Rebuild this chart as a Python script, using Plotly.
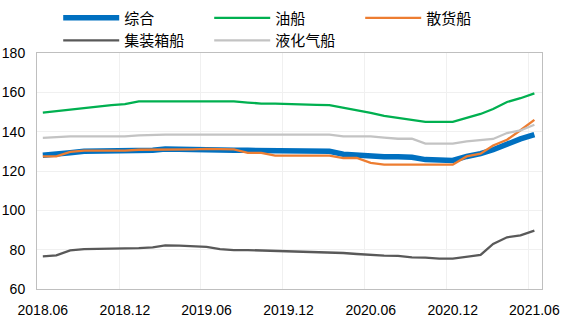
import pandas as pd
import plotly.graph_objects as go

months = pd.period_range("2018-06", "2021-06", freq="M").strftime("%Y-%m").tolist()

zonghe = [128.0, 128.3, 129.3, 130.0, 130.0, 130.0, 130.1, 130.3, 130.6, 131.2, 131.2, 131.2,
          130.9, 130.8, 130.6, 130.5, 130.5, 130.5, 130.4, 130.4, 130.3, 130.0, 128.5, 128.0,
          127.4, 127.3, 127.2, 127.0, 125.8, 125.5, 125.4, 127.4, 128.8, 130.8, 133.7, 136.3, 138.5]
youchuan = [149.7, 150.5, 151.3, 152.2, 153.0, 153.5, 154.0, 155.4, 155.4, 155.4, 155.4, 155.4,
            155.4, 155.4, 155.4, 154.8, 154.3, 154.3, 154.0, 153.6, 153.6, 153.5, 152.3, 151.0,
            149.6, 148.0, 147.0, 146.2, 145.0, 145.0, 145.0, 147.0, 149.0, 151.5, 155.1, 157.0, 159.5]
sanhuo = [127.4, 127.4, 129.7, 130.4, 130.4, 130.4, 130.4, 130.8, 130.8, 130.8, 130.8, 131.0,
          131.2, 131.2, 131.0, 129.2, 129.2, 127.8, 127.8, 127.8, 127.8, 127.8, 126.6, 126.6,
          124.1, 123.2, 123.2, 123.2, 123.2, 123.2, 123.2, 127.4, 128.8, 133.0, 135.9, 140.7, 146.0]
jizhuangxiang = [76.6, 77.1, 79.6, 80.3, 80.4, 80.5, 80.7, 80.8, 81.2, 82.2, 82.1, 81.9,
                 81.4, 80.3, 79.8, 79.8, 79.6, 79.3, 79.2, 78.9, 78.6, 78.4, 78.3, 77.8,
                 77.3, 77.0, 76.8, 76.1, 76.0, 75.4, 75.4, 76.2, 77.3, 82.9, 86.3, 87.3, 89.7]
yehuaqi = [136.8, 137.3, 137.6, 137.6, 137.6, 137.6, 137.6, 138.1, 138.5, 138.5, 138.5, 138.5,
           138.5, 138.5, 138.5, 138.5, 138.5, 138.5, 138.5, 138.5, 138.5, 138.5, 137.6, 137.6,
           137.6, 137.0, 136.4, 136.4, 133.9, 133.9, 133.9, 135.1, 135.9, 136.3, 139.3, 140.6, 143.5]

series = [
    ("综合", zonghe, "#0070C0", 5.5),
    ("油船", youchuan, "#00B050", 2.3),
    ("散货船", sanhuo, "#ED7D31", 2.3),
    ("集装箱船", jizhuangxiang, "#595959", 2.3),
    ("液化气船", yehuaqi, "#C3C3C3", 2.3),
]

x = pd.to_datetime(months) + pd.Timedelta(days=13)

fig = go.Figure()
for name, vals, color, w in series:
    fig.add_trace(go.Scatter(x=x, y=vals, name=name, mode="lines",
                             line=dict(color=color, width=w)))

grid_dates = pd.date_range("2018-06-01", "2021-06-01", freq="6MS")
label_dates = x[::6]
label_text = [m.replace("-", ".") for m in months[::6]]

fig.update_layout(
    width=568, height=327,
    margin=dict(l=37, r=26, t=53, b=38, autoexpand=False),
    paper_bgcolor="white", plot_bgcolor="white",
    font=dict(family="Liberation Sans, Arial, Noto Sans CJK SC", size=14, color="#000000"),
    showlegend=True,
    legend=dict(
        orientation="h", x=0.042, y=1.218, xanchor="left", yanchor="top",
        font=dict(family="Noto Sans CJK SC", size=15, color="#000000"),
        entrywidth=80, entrywidthmode="pixels",
        bgcolor="rgba(0,0,0,0)", itemwidth=56,
    ),
    xaxis=dict(
        type="date", range=["2018-06-01", "2021-07-01"],
        tickmode="array", tickvals=label_dates, ticktext=label_text,
        showgrid=False, ticks="", ticklabelstandoff=8,
        showline=True, mirror=True, linecolor="#BFBFBF", linewidth=1,
        zeroline=False,
        minor=dict(tickmode="array", tickvals=grid_dates, showgrid=True,
                   gridcolor="#F0F0F0", gridwidth=1, ticks=""),
    ),
    yaxis=dict(
        range=[60, 180], tickmode="linear", tick0=60, dtick=20,
        showgrid=True, gridcolor="#F0F0F0", gridwidth=1,
        ticks="", ticklabelstandoff=8,
        showline=True, mirror=True, linecolor="#BFBFBF", linewidth=1,
        zeroline=False,
    ),
)

fig.write_html("out.html")
